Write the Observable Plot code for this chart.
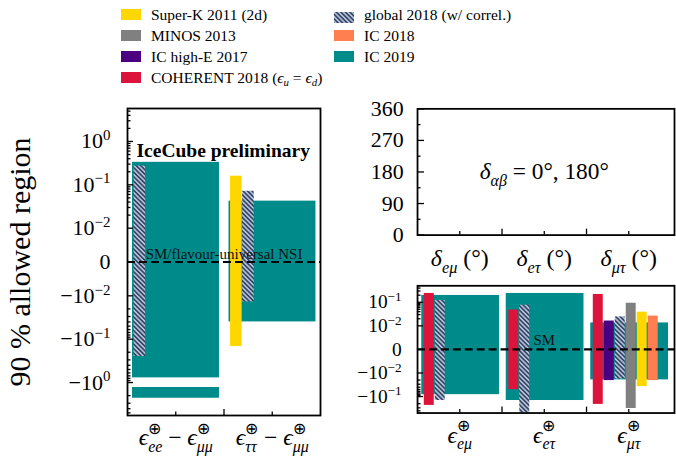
<!DOCTYPE html>
<html><head><meta charset="utf-8">
<script src="https://cdn.jsdelivr.net/npm/d3@7"></script>
<script src="https://cdn.jsdelivr.net/npm/@observablehq/plot@0.6"></script>
<style>
html,body{margin:0;padding:0;background:#fff;}
#chart{position:relative;width:676px;height:457px;overflow:hidden;font-family:"Liberation Serif",serif;color:#000;}
#chart svg.plotsvg{position:absolute;left:0;top:0;}
.lg-sw{position:absolute;width:20px;height:11px;}
.lg-tx{position:absolute;font-size:15.5px;line-height:15px;white-space:nowrap;}
.lg-tx sub{font-size:0.7em;vertical-align:-0.3em;line-height:0;}
</style></head>
<body>
<svg width="0" height="0" style="position:absolute"><defs>
<pattern id="hatch" patternUnits="userSpaceOnUse" width="3.2" height="3.2" patternTransform="rotate(-45)">
<rect width="3.2" height="3.2" fill="#b0c0da"/><line x1="1.6" y1="-1" x2="1.6" y2="4.2" stroke="#27324f" stroke-width="1.4"/>
</pattern></defs></svg>
<div id="chart"></div>
<script>
// ---------------- data ----------------
const expKeys   = ["SK", "MINOS", "ICHE", "COH", "GLOB", "IC18", "IC19"];
const expNames  = ["Super-K 2011 (2d)", "MINOS 2013", "IC high-E 2017", "COHERENT 2018 (ϵ_{u} = ϵ_{d})",
                   "global 2018 (w/ correl.)", "IC 2018", "IC 2019"];
const expColors = ["#FFD700", "#808080", "#4B0082", "#DC143C", "url(#hatch)", "#FF7F50", "#008B8B"];

const leftCategories = ["ϵ_{ee}^{⊕} − ϵ_{μμ}^{⊕}", "ϵ_{ττ}^{⊕} − ϵ_{μμ}^{⊕}"];
const leftCat  = [0, 0, 0, 1, 1, 1];
const leftExp  = ["IC19", "IC19", "GLOB", "IC19", "SK", "GLOB"];
const leftLow  = [-0.78, -2.3, -0.25, -0.040, -0.148, -0.0138];
const leftHigh = [0.33, -1.3, 0.27, 0.042, 0.158, 0.071];

const rightCategories = ["ϵ_{eμ}^{⊕}", "ϵ_{eτ}^{⊕}", "ϵ_{μτ}^{⊕}"];
const rightCat  = [0, 0, 0, 1, 1, 1, 2, 2, 2, 2, 2, 2, 2];
const rightExp  = ["IC19", "COH", "GLOB", "IC19", "COH", "GLOB", "IC19", "COH", "ICHE", "GLOB", "MINOS", "SK", "IC18"];
const rightLow  = [-0.083, -0.237, -0.147, -0.147, -0.051, -0.6, -0.0196, -0.215, -0.021, -0.018, -0.32, -0.038, -0.021];
const rightHigh = [0.195, 0.237, 0.12, 0.237, 0.047, 0.075, 0.0133, 0.215, 0.016, 0.024, 0.091, 0.038, 0.026];

const phaseCategories = ["δ_{eμ} (°)", "δ_{eτ} (°)", "δ_{μτ} (°)"];
const phaseTicks = [0, 90, 180, 270, 360];
const phaseMinor = [45, 135, 225, 315];
const phaseNote = "δ_{αβ} = 0°, 180°";

const leftTickValues  = [-1, -0.1, -0.01, 0, 0.01, 0.1, 1];
const leftTickLabels  = ["−10^{0}", "−10^{−1}", "−10^{−2}", "0", "10^{−2}", "10^{−1}", "10^{0}"];
const rightTickValues = [-0.1, -0.01, 0, 0.01, 0.1];
const rightTickLabels = ["−10^{−1}", "−10^{−2}", "0", "10^{−2}", "10^{−1}"];
const leftLimit = 5.75, rightLimit = 0.5;

const yLabel = "90 % allowed region";
const leftNote = "IceCube preliminary";
const leftSM = "SM/flavour-universal NSI";
const rightSM = "SM";

// ---------------- helpers ----------------
const colorOf = k => expColors[expKeys.indexOf(k)];
const symlog = L => v => { const a = Math.abs(v); return a < 0.01 ? v / 0.01 * L : Math.sign(v) * (L + Math.log10(a / 0.01)); };
const fL = symlog(0.78), fR = symlog(1.0);
function minorTicks(maxAbs) {
  const t = [];
  for (let k = -2; k <= 1; k++) for (let m = 2; m <= 9; m++) { const v = m * 10 ** k; if (v <= maxAbs) t.push(v, -v); }
  return t;
}
function buildRows(cat, exp, lo, hi, tf, g) {
  const counters = {};
  return cat.map((c, i) => {
    const full = exp[i] === "IC19";
    let x1, x2;
    if (full) { x1 = c + g.fullStart; x2 = c + g.fullEnd; }
    else { const s = counters[c] = (counters[c] ?? -1) + 1; x1 = c + g.start + s * g.step; x2 = x1 + g.width; }
    return {x1, x2, y1: tf(lo[i]), y2: tf(hi[i]), exp: exp[i], full};
  });
}
function rectMarks(rows) {
  const order = ["IC19", ...expKeys.filter(k => k !== "IC19")];
  return order.map(k => Plot.rect(rows.filter(r => r.exp === k), {x1: "x1", x2: "x2", y1: "y1", y2: "y2", fill: colorOf(k), clip: true}));
}
const tickStyle = {stroke: "black", strokeWidth: 1.3, fill: "none", label: null};
const baseStyle = {background: "transparent", fontFamily: "Liberation Serif", fontSize: "22px", color: "black", overflow: "visible"};

// ---------------- left panel ----------------
const leftRows = buildRows(leftCat, leftExp, leftLow, leftHigh, fL, {fullStart: 0.052, fullEnd: 0.953, start: 0.068, step: 0.125, width: 0.12});
const leftLabelMap = new Map(leftTickValues.map((v, i) => [fL(v), leftTickLabels[i]]));
const leftPlot = Plot.plot({
  width: 676, height: 457,
  marginLeft: 127, marginRight: 676 - 320, marginTop: 108, marginBottom: 457 - 415,
  style: baseStyle,
  x: {domain: [0, 2], axis: null},
  y: {domain: [-fL(leftLimit), fL(leftLimit)], axis: null},
  marks: [
    ...rectMarks(leftRows),
    Plot.ruleY([0], {stroke: "black", strokeWidth: 2.2, strokeDasharray: "8,4"}),
    Plot.text([leftSM], {x: 1, y: 0, dy: -8, fontSize: 15, fill: "#111"}),
    Plot.text([leftNote], {frameAnchor: "top-left", textAnchor: "start", lineAnchor: "middle", dx: 9, dy: 42, fontWeight: "bold", fontSize: 19.5}),
    Plot.frame({stroke: "black", strokeWidth: 1.8}),
    Plot.axisY(leftTickValues.map(fL), {...tickStyle, tickSize: -6}),
    Plot.axisY(minorTicks(leftLimit).map(fL), {...tickStyle, tickSize: -3.5}),
    Plot.axisY(leftTickValues.map(fL), {tickSize: 0, tickPadding: 17, label: null, fontSize: 22, tickFormat: t => leftLabelMap.get(t)}),
    Plot.axisX([1], {...tickStyle, tickSize: -6}),
    Plot.axisX([0.5, 1.5], {...tickStyle, tickSize: -3.5}),
    Plot.axisX([0.5, 1.5], {tickSize: 0, tickPadding: 13, label: null, fontSize: 23.5, tickFormat: t => leftCategories[Math.floor(t)]}),
    Plot.text([yLabel], {frameAnchor: "left", textAnchor: "middle", rotate: -90, dx: -107, fontSize: 30})
  ]
});

// ---------------- right top panel ----------------
const rW = 680, rRight = 678, rLeft = 419.5, band = 85;
const rDomain = [0, (rRight - rLeft) / band];
const phasePlot = Plot.plot({
  width: rW, height: 457,
  marginLeft: rLeft, marginRight: rW - rRight, marginTop: 109, marginBottom: 457 - 236,
  style: baseStyle,
  x: {domain: rDomain, axis: null},
  y: {domain: [0, 360], axis: null},
  marks: [
    Plot.text([phaseNote], {x: 1.5, y: 180, fontSize: 23.5}),
    Plot.frame({stroke: "black", strokeWidth: 1.8}),
    Plot.axisY(phaseTicks, {...tickStyle, tickSize: -7}),
    Plot.axisY(phaseMinor, {...tickStyle, tickSize: -3.5}),
    Plot.axisY(phaseTicks, {tickSize: 0, tickPadding: 14, label: null, fontSize: 22}),
    Plot.axisX([1, 2], {...tickStyle, tickSize: -6}),
    Plot.axisX([0.5, 1.5, 2.5], {...tickStyle, tickSize: -3.5}),
    Plot.axisX([0.5, 1.5, 2.5], {tickSize: 0, tickPadding: 14, label: null, fontSize: 24, tickFormat: t => phaseCategories[Math.floor(t)]})
  ]
});

// ---------------- right bottom panel ----------------
const rightRows = buildRows(rightCat, rightExp, rightLow, rightHigh, fR, {fullStart: 0.05, fullEnd: 0.97, start: 0.08, step: 0.13, width: 0.118});
const rightLabelMap = new Map(rightTickValues.map((v, i) => [fR(v), rightTickLabels[i]]));
const nsiPlot = Plot.plot({
  width: rW, height: 457,
  marginLeft: rLeft, marginRight: rW - rRight, marginTop: 287, marginBottom: 457 - 415,
  style: baseStyle,
  x: {domain: rDomain, axis: null},
  y: {domain: [-fR(rightLimit), fR(rightLimit)], axis: null},
  marks: [
    ...rectMarks(rightRows),
    Plot.ruleY([0], {stroke: "black", strokeWidth: 2.2, strokeDasharray: "8,4"}),
    Plot.text([rightSM], {x: 1.5, y: 0, dy: -9, fontSize: 15, fill: "#111"}),
    Plot.frame({stroke: "black", strokeWidth: 1.8}),
    Plot.axisY(rightTickValues.map(fR), {...tickStyle, tickSize: -6}),
    Plot.axisY(minorTicks(rightLimit).map(fR), {...tickStyle, tickSize: -3.5}),
    Plot.axisY(rightTickValues.map(fR), {tickSize: 0, tickPadding: 16, label: null, fontSize: 19.5, tickFormat: t => rightLabelMap.get(t)}),
    Plot.axisX([1, 2], {...tickStyle, tickSize: -6}),
    Plot.axisX([0.5, 1.5, 2.5], {...tickStyle, tickSize: -3.5}),
    Plot.axisX([0.5, 1.5, 2.5], {tickSize: 0, tickPadding: 13, label: null, fontSize: 23.5, tickFormat: t => rightCategories[Math.floor(t)]})
  ]
});

const chart = document.getElementById("chart");
for (const p of [leftPlot, phasePlot, nsiPlot]) { p.classList.add("plotsvg"); chart.appendChild(p); }

// ---------------- rich text (sub/superscripts) ----------------
const NS = "http://www.w3.org/2000/svg";
function tokenize(s) {
  const out = []; const re = /([_^])\{([^}]*)\}/g; let last = 0, m;
  while ((m = re.exec(s))) {
    if (m.index > last) out.push({t: "n", s: s.slice(last, m.index)});
    out.push({t: m[1] === "_" ? "sub" : "sup", s: m[2]});
    last = re.lastIndex;
  }
  if (last < s.length) out.push({t: "n", s: s.slice(last)});
  return out;
}
function pieces(tok) {
  const runs = [];
  for (const ch of tok.s) {
    const it = tok.t === "n" ? /[α-ωϵ]/.test(ch) : /[A-Za-zα-ωϵ]/.test(ch);
    if (runs.length && runs[runs.length - 1].it === it) runs[runs.length - 1].s += ch; else runs.push({s: ch, it});
  }
  return runs;
}
function richifySVG(root) {
  root.querySelectorAll("text").forEach(text => {
    const raw = text.textContent;
    if (!/[_^]\{/.test(raw) && !/[α-ωϵ]/.test(raw)) return;
    const fs = parseFloat(getComputedStyle(text).fontSize);
    const hasStack = raw.includes("_{") && raw.includes("^{");
    const supRaise = hasStack ? 0.48 : 0.38;
    while (text.firstChild) text.removeChild(text.firstChild);
    let shift = 0, prev = null, pendingDx = 0;
    tokenize(raw).forEach(tok => {
      const target = tok.t === "sub" ? 0.29 * fs : tok.t === "sup" ? -supRaise * fs : 0;
      const stacked = prev && prev.t !== "n" && tok.t !== "n" && prev.t !== tok.t;
      let dx = pendingDx; pendingDx = 0;
      if (stacked) dx -= prev.w;
      const made = [];
      pieces(tok).forEach((p, j) => {
        const ts = document.createElementNS(NS, "tspan");
        ts.textContent = p.s;
        if (tok.t !== "n") ts.setAttribute("font-size", (0.68 * fs).toFixed(2));
        if (p.it) ts.setAttribute("font-style", "italic");
        if (j === 0) {
          if (target - shift !== 0) ts.setAttribute("dy", (target - shift).toFixed(2));
          if (dx) ts.setAttribute("dx", dx.toFixed(2));
        }
        text.appendChild(ts); made.push(ts);
      });
      shift = target;
      const w = made.reduce((a, t) => a + t.getComputedTextLength(), 0);
      if (stacked && prev.w > w) pendingDx = prev.w - w;
      tok.w = w;
      prev = stacked ? null : tok;
    });
  });
}
for (const p of [leftPlot, phasePlot, nsiPlot]) richifySVG(p);

// ---------------- legend ----------------
function richHTML(s) {
  return tokenize(s).map(tok => {
    const inner = pieces(tok).map(p => p.it ? `<i>${p.s}</i>` : p.s).join("");
    return tok.t === "n" ? inner : tok.t === "sub" ? `<sub>${inner}</sub>` : `<sup>${inner}</sup>`;
  }).join("");
}
const legendCols = [[0, 1, 2, 3], [4, 5, 6]];
const colX = [121, 334], rowY = [9, 29.8, 50.7, 71.6];
legendCols.forEach((col, ci) => col.forEach((ei, ri) => {
  const sw = document.createElement("div");
  sw.className = "lg-sw";
  sw.style.left = colX[ci] + "px"; sw.style.top = rowY[ri] + "px";
  if (expColors[ei].startsWith("url")) {
    sw.innerHTML = `<svg width="20" height="11"><rect width="20" height="11" fill="${expColors[ei]}"/></svg>`;
  } else sw.style.background = expColors[ei];
  chart.appendChild(sw);
  const tx = document.createElement("div");
  tx.className = "lg-tx";
  tx.style.left = (colX[ci] + 30) + "px"; tx.style.top = (rowY[ri] - 2) + "px";
  tx.innerHTML = richHTML(expNames[ei]);
  chart.appendChild(tx);
}));
</script>
</body></html>
